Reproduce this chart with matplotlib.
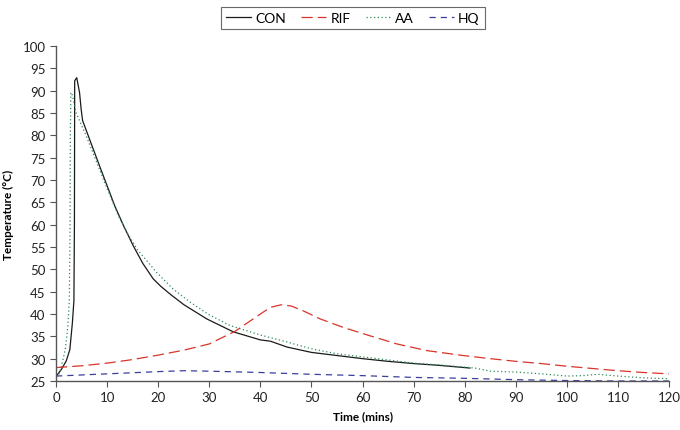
import matplotlib
matplotlib.use("Agg")
import matplotlib.pyplot as plt

plt.rcParams["font.family"] = ["Lato", "DejaVu Sans"]

# readings, time in mins / temperature in degC
con_t = [0, 1, 2, 2.7, 3.2, 3.5, 3.6, 3.65, 4.05, 4.6, 4.9, 5.2, 8.5, 9.9, 11.5,
         13.2, 15.1, 17, 19, 20.5, 22.5, 25, 29.5, 34.7, 40, 42, 45.2, 50, 55,
         60, 65, 70, 75, 80, 81]
con_y = [26, 27.5, 29.5, 32, 38, 43, 60, 92.2, 92.9, 89.6, 86, 83.3, 73.2, 69, 64.2,
         59.8, 55.3, 51.3, 47.9, 46.2, 44.3, 42.1, 38.9, 36.0, 34.2, 33.9, 32.6,
         31.4, 30.7, 30.0, 29.4, 28.9, 28.5, 28.0, 27.9]

rif_t = [0, 5, 10, 15, 20, 25, 30, 35, 40, 42, 44, 46, 48.4, 51.7, 56.2, 61.5,
         66.7, 72.6, 79.7, 85, 90, 95, 100, 105, 110, 115, 120]
rif_y = [28, 28.4, 29, 29.8, 30.8, 31.9, 33.3, 36.1, 40.0, 41.5, 42.05, 41.8, 40.7,
         38.9, 37.0, 35.1, 33.3, 31.8, 30.7, 30.0, 29.4, 28.9, 28.3, 27.8, 27.3,
         26.9, 26.6]

aa_t = [0, 0.5, 1, 1.8, 2.3, 2.6, 2.75, 2.8, 2.9, 3.07, 3.9, 5.9, 7.5, 9.5, 12.2,
        14, 16, 19.7, 23, 26.2, 30, 34.1, 40, 45, 50, 55, 60, 65, 70, 75,
        80, 82, 85, 90, 95, 100, 103, 106, 110, 115, 120]
aa_y = [26, 26.3, 28, 32, 37, 43, 60, 80, 89.4, 89.6, 85.1, 79.9, 75.3, 69.5, 62,
        58, 54.3, 49.3, 45.5, 42.7, 39.8, 37.4, 35.3, 33.8, 32.2, 31.1, 30.4,
        29.7, 29.0, 28.6, 28.1, 27.9, 27.2, 27.0, 26.6, 26.1, 26.2, 26.5, 26.1,
        25.7, 25.5]

hq_t = [0, 10, 20, 25, 30, 40, 50, 60, 70, 80, 90, 100, 110, 120]
hq_y = [26.1, 26.6, 27.1, 27.3, 27.2, 26.9, 26.5, 26.2, 25.8, 25.6, 25.3, 25.1, 25.0, 25.0]

x_ticks = list(range(0, 121, 10))
y_ticks = list(range(25, 101, 5))

fig = plt.figure(figsize=(6.8, 4.31), dpi=100)
ax = fig.add_axes([0.0824, 0.1137, 0.9016, 0.7773])

ax.plot(con_t, con_y, color="#1a1a1a", lw=0.9, label="CON")
ax.plot(rif_t, rif_y, color="#d9342b", lw=0.9, dashes=(9, 4), label="RIF")
ax.plot(aa_t, aa_y, color="#2e8b57", lw=0.9, dashes=(1, 2), label="AA")
ax.plot(hq_t, hq_y, color="#3b3f9c", lw=0.9, dashes=(5, 4), label="HQ")

ax.set_xlim(0, 120)
ax.set_ylim(25, 100)
ax.set_xticks(x_ticks)
ax.set_yticks(y_ticks)
for s in ("top", "right"):
    ax.spines[s].set_visible(False)
for s in ("left", "bottom"):
    ax.spines[s].set_color("#555555")
    ax.spines[s].set_linewidth(1.0)
ax.tick_params(direction="out", length=4, color="#555555", labelsize=9.5,
               labelcolor="#222222")

ax.set_xlabel("Time (mins)", fontsize=8.5, fontweight="bold", labelpad=5)
ax.set_ylabel("Temperature (\u00b0C)", fontsize=8.5, fontweight="bold", labelpad=6)

leg = fig.legend(loc="upper center", bbox_to_anchor=(0.519, 0.997), ncol=4,
                 fontsize=10, frameon=True, fancybox=False, handlelength=1.8,
                 handletextpad=0.3, columnspacing=1.1, borderpad=0.35)
leg.get_frame().set_edgecolor("#444444")
leg.get_frame().set_linewidth(0.8)

fig.savefig("out.png", dpi=100)
